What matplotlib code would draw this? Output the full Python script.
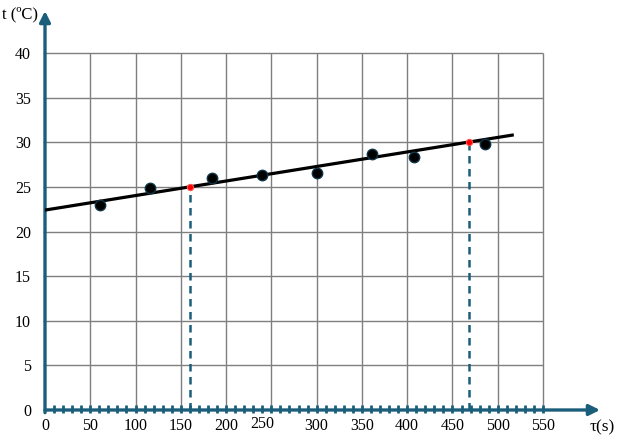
import numpy as np
import matplotlib
matplotlib.use("Agg")
import matplotlib.pyplot as plt
import matplotlib.transforms as mtransforms

# measured points: time (s) vs temperature (C)
tau = [61, 116, 184, 240, 300, 361, 408, 486]
temp = [23.0, 24.9, 26.0, 26.3, 26.6, 28.7, 28.4, 29.8]

# points
red_tau = [160, 468]
red_temp = [25.0, 30.0]

# fitted line end points
line_tau = [0, 516]
line_temp = [22.4, 30.8]

x_ticks = [0, 50, 100, 150, 200, 250, 300, 350, 400, 450, 500, 550]
y_ticks = [0, 5, 10, 15, 20, 25, 30, 35, 40]
minor_x = list(range(10, 560, 10))

teal = "#1b5e7b"
grid_c = "#7f7f7f"
serif = "Liberation Serif"

W, H = 626, 446
fig = plt.figure(figsize=(W / 100, H / 100), dpi=100)
px_x = 498 / 550.0   # pixels per second
px_y = 357 / 40.0    # pixels per degree
x0, y0 = 45, 410     # origin in pixels
ax = fig.add_axes([x0 / W, (H - y0) / H, (W - x0) / W, y0 / H])
ax.set_xlim(0, (W - x0) / px_x)
ax.set_ylim(0, y0 / px_y)
for s in ax.spines.values():
    s.set_visible(False)

# grid
ax.vlines(x_ticks[1:], 0, 40, color=grid_c, lw=1, zorder=1)
ax.hlines(y_ticks[1:], -2.5, 550, color=grid_c, lw=1, zorder=1, clip_on=False)

# axes with arrows
ax.annotate("", xy=(600 - x0) / px_x * np.array([1, 0]), xytext=(0, 0),
            arrowprops=dict(arrowstyle="-|>", color=teal, lw=2.4,
                            mutation_scale=16, shrinkA=0, shrinkB=0),
            annotation_clip=False, zorder=3)
ax.annotate("", xy=(0, (y0 - 11) / px_y), xytext=(0, -0.3),
            arrowprops=dict(arrowstyle="-|>", color=teal, lw=2.4,
                            mutation_scale=16, shrinkA=0, shrinkB=0),
            annotation_clip=False, zorder=3)

# small ticks along the time axis
ax.vlines(minor_x, -0.3, 0.55, color=teal, lw=2.0, zorder=4, clip_on=False)

# dashed drop lines
ax.vlines(red_tau, 0, red_temp, color=teal, lw=1.8,
          linestyles=(0, (3, 2.2)), zorder=2)

# fit line and points
ax.plot(line_tau, line_temp, color="black", lw=2.3, zorder=4)
ax.plot(tau, temp, "o", ms=7.5, mfc="black", mec="#0d3447", mew=1, zorder=5)
ax.plot(red_tau, red_temp, "o", ms=4.5, mfc="#ff0000", mec="#ff5050", mew=0.8, zorder=6)

# tick labels
ax.set_xticks(x_ticks)
ax.set_xticklabels([str(v) for v in x_ticks])
ax.set_yticks(y_ticks)
ax.set_yticklabels([str(v) for v in y_ticks])
ax.tick_params(axis="both", length=0, labelsize=11.5)
ax.tick_params(axis="x", pad=6)
ax.tick_params(axis="y", pad=10)
for lab in ax.get_xticklabels() + ax.get_yticklabels():
    lab.set_fontfamily(serif)
# the 250 label sits a bit left and higher in the original
lab250 = ax.get_xticklabels()[5]
lab250.set_transform(lab250.get_transform() +
                     mtransforms.ScaledTranslation(-9 / 100, 2 / 100, fig.dpi_scale_trans))

fig.text(2 / W, 1 - 14 / H, "t (ºC)", fontsize=12, family=serif, ha="left", va="center")
fig.text(602 / W, 1 - 427 / H, "τ(s)", fontsize=12.5, family=serif, ha="center", va="center")

fig.savefig("out.png", dpi=100)
